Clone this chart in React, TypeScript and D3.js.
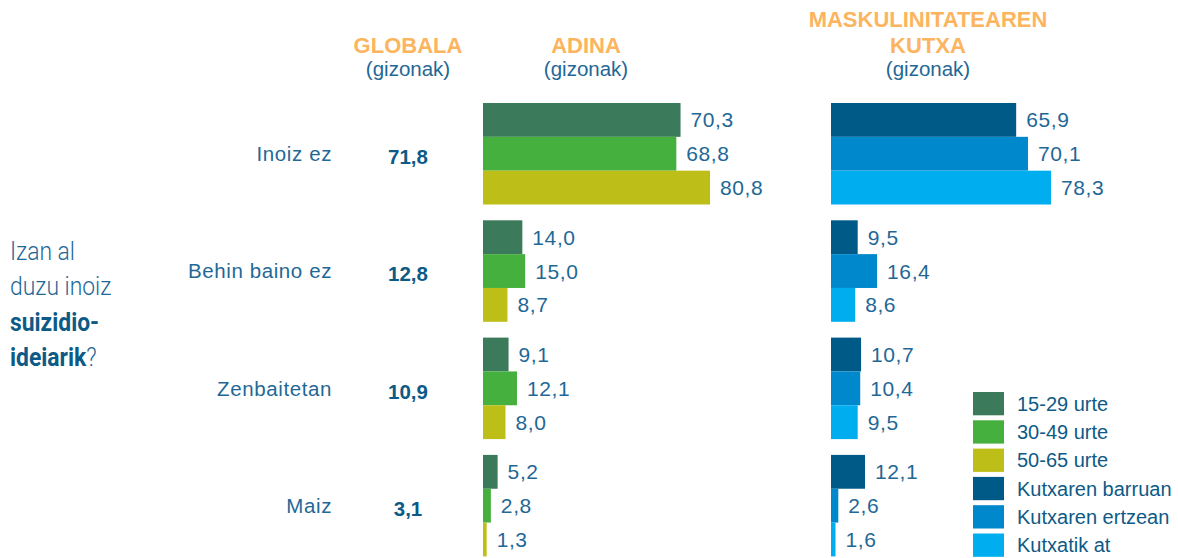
import React from "react";
import * as d3 from "d3";

const categories = ["Inoiz ez", "Behin baino ez", "Zenbaitetan", "Maiz"];
const globala = [71.8, 12.8, 10.9, 3.1];
const age1529 = [70.3, 14.0, 9.1, 5.2];
const age3049 = [68.8, 15.0, 12.1, 2.8];
const age5065 = [80.8, 8.7, 8.0, 1.3];
const boxInside = [65.9, 9.5, 10.7, 12.1];
const boxEdge = [70.1, 16.4, 10.4, 2.6];
const boxOutside = [78.3, 8.6, 9.5, 1.6];

const ageSeries = ["15-29 urte", "30-49 urte", "50-65 urte"];
const boxSeries = ["Kutxaren barruan", "Kutxaren ertzean", "Kutxatik at"];
const ageColors = ["#3b7a5a", "#45b03d", "#bdbf18"];
const boxColors = ["#005a87", "#0088cc", "#00aeef"];

const W = 1178;
const H = 558;
const BLUE = "#1f6896";
const DARK = "#0d5a86";
const ORANGE = "#fdb45e";
const FONT = "'Liberation Sans', Arial, sans-serif";
const COND = "Roboto, sans-serif";

const fmt = (v: number) => d3.format(".1f")(v).replace(".", ",");

export default function App() {
  const yGroup = d3
    .scaleBand<string>()
    .domain(categories)
    .range([103, 556.4])
    .paddingInner(0.1347)
    .paddingOuter(0);
  const yInner = d3
    .scaleBand<number>()
    .domain([0, 1, 2])
    .range([0, yGroup.bandwidth()])
    .padding(0);
  const x = d3.scaleLinear().domain([0, 100]).range([0, 281]);

  const ageX0 = 483;
  const boxX0 = 831;
  const ageData = [age1529, age3049, age5065];
  const boxData = [boxInside, boxEdge, boxOutside];

  const panel = (data: number[][], colors: string[], x0: number, key: string) =>
    categories.map((c, ci) =>
      data.map((series, si) => {
        const v = series[ci];
        const y = (yGroup(c) as number) + (yInner(si) as number);
        const h = yInner.bandwidth();
        return (
          <g key={`${key}-${ci}-${si}`}>
            <rect x={x0} y={y} width={x(v)} height={h} fill={colors[si]} />
            <text
              x={x0 + x(v) + 10}
              y={y + h / 2}
              dy="0.36em"
              fontSize={21}
              letterSpacing={0.6}
              fill={BLUE}
              fontFamily={FONT}
            >
              {fmt(v)}
            </text>
          </g>
        );
      })
    );

  const legendItems = [...ageSeries.map((s, i) => ({ s, c: ageColors[i] })), ...boxSeries.map((s, i) => ({ s, c: boxColors[i] }))];

  return (
    <svg width={W} height={H} style={{ position: "absolute", left: 0, top: 0 }} fontFamily={FONT}>
      <rect width={W} height={H} fill="#ffffff" />

      {/* headers */}
      <g fontWeight="bold" fill={ORANGE} fontSize={22} textAnchor="middle">
        <text x={408} y={53}>GLOBALA</text>
        <text x={586} y={53}>ADINA</text>
        <text x={928} y={26.5}>MASKULINITATEAREN</text>
        <text x={928} y={53}>KUTXA</text>
      </g>
      <g fill={BLUE} fontSize={20.5} textAnchor="middle">
        <text x={408} y={76}>(gizonak)</text>
        <text x={586} y={76}>(gizonak)</text>
        <text x={928} y={76}>(gizonak)</text>
      </g>

      {/* question (condensed) */}
      <g transform="translate(10,0) scale(0.88,1)" fontFamily={COND} fontSize={26} fill={BLUE}>
        <text x={0} y={260} fontWeight={300}>Izan al</text>
        <text x={0} y={295} fontWeight={300}>duzu inoiz</text>
        <text x={0} y={331} fontWeight="bold" fill={DARK}>suizidio-</text>
        <text x={0} y={366.5}>
          <tspan fontWeight="bold" fill={DARK}>ideiarik</tspan>
          <tspan fontWeight={300}>?</tspan>
        </text>
      </g>

      {/* category labels and global values */}
      {categories.map((c, i) => {
        const cy = (yGroup(c) as number) + yGroup.bandwidth() / 2;
        return (
          <g key={c}>
            <text x={332} y={cy} dy="0.36em" textAnchor="end" fontSize={20.5} letterSpacing={0.6} fill={BLUE}>
              {c}
            </text>
            <text x={408} y={cy + 3} dy="0.36em" textAnchor="middle" fontSize={20.5} fontWeight="bold" fill={DARK}>
              {fmt(globala[i])}
            </text>
          </g>
        );
      })}

      {panel(ageData, ageColors, ageX0, "age")}
      {panel(boxData, boxColors, boxX0, "box")}

      {/* legend */}
      {legendItems.map((it, i) => {
        const y = 392 + i * 28.3;
        return (
          <g key={it.s}>
            <rect x={973} y={y} width={31} height={23.3} fill={it.c} />
            <text x={1017} y={y + 11.6} dy="0.36em" fontSize={20} fill={DARK}>
              {it.s}
            </text>
          </g>
        );
      })}
    </svg>
  );
}
